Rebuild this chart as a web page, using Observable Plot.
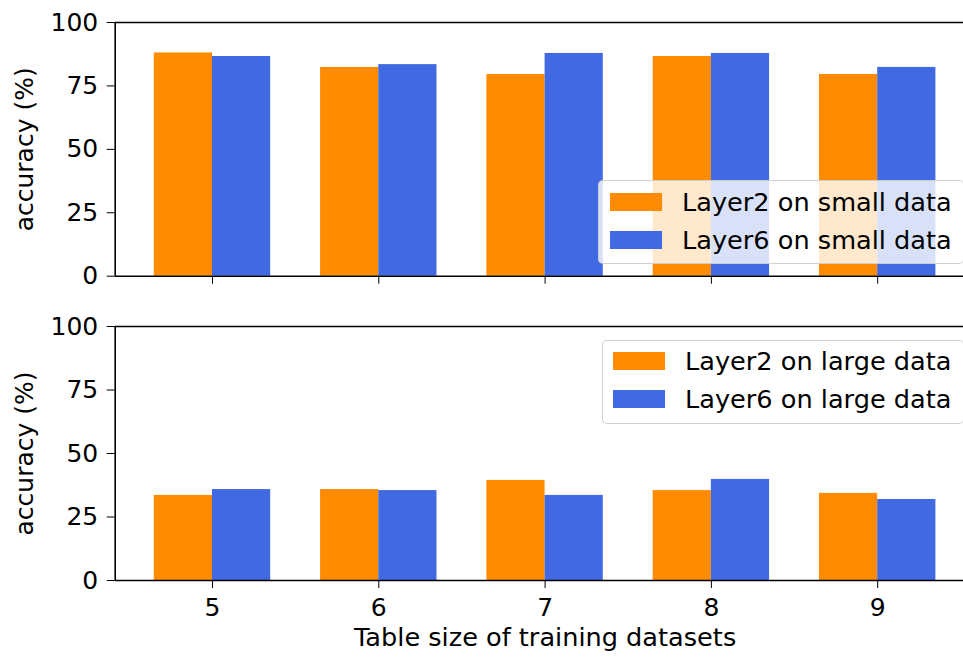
<!DOCTYPE html>
<html>
<head>
<meta charset="utf-8">
<script src="https://cdn.jsdelivr.net/npm/d3@7"></script>
<script src="https://cdn.jsdelivr.net/npm/@observablehq/plot@0.6"></script>
<style>
  html, body { margin: 0; padding: 0; background: #fff; }
  #wrap { position: relative; width: 963px; height: 657px; overflow: hidden; font-family: "DejaVu Sans", sans-serif; }
  .panel { position: absolute; left: 0; width: 963px; }
  .panel svg { display: block; overflow: visible; }
  .panel svg g[aria-label*="axis"] line, .panel svg .tick line { stroke-width: 1.6px; }
  .legend { position: absolute; background: rgba(255,255,255,0.8); border: 1px solid rgba(204,204,204,0.9); border-radius: 5px; box-sizing: border-box; }
  .legend .patch { position: absolute; width: 52px; height: 18px; }
  .legend .lab { position: absolute; font-size: 25.6px; line-height: 26px; color: #000; white-space: nowrap; }
</style>
</head>
<body>
<div id="wrap"></div>
<script>
// ---- data ----
const sizes = [5, 6, 7, 8, 9];
const layer2Small = [88.0, 82.3, 79.5, 86.6, 79.5];
const layer6Small = [86.6, 83.4, 87.8, 87.8, 82.3];
const layer2Large = [33.5, 35.8, 39.4, 35.4, 34.3];
const layer6Large = [35.8, 35.4, 33.5, 39.8, 31.9];
const yTicks = [0, 25, 50, 75, 100];
const topSeries = ["Layer2 on small data", "Layer6 on small data"];
const bottomSeries = ["Layer2 on large data", "Layer6 on large data"];
const xLabel = "Table size of training datasets";
const yLabel = "accuracy (%)";

// ---- style ----
const colors = ["#FF8C00", "#4169E1"];
const barW = 0.35;
const xDomain = [4.415, 9.516];
const font = "DejaVu Sans";

function rows(names, a, b) {
  const out = [];
  sizes.forEach((s, i) => {
    out.push({size: s, series: names[0], idx: 0, value: a[i]});
    out.push({size: s, series: names[1], idx: 1, value: b[i]});
  });
  return out;
}

function panel(data, opts) {
  const marks = [
    Plot.rectY(data, {
      x1: d => d.size - barW + d.idx * barW,
      x2: d => d.size + d.idx * barW,
      y: "value",
      fill: d => colors[d.idx]
    }),
    Plot.ruleY([0], {stroke: "#000", strokeWidth: 1.6}),
    Plot.ruleY([100], {stroke: "#000", strokeWidth: 1.6}),
    Plot.ruleX([xDomain[0]], {stroke: "#000", strokeWidth: 1.6}),
    Plot.text([yLabel], {frameAnchor: "left", rotate: -90, dx: -90.5, textAnchor: "middle", fontSize: 25, fill: "#000"})
  ];
  if (opts.showX) {
    marks.push(Plot.text([xLabel], {x: () => d3.mean(sizes), frameAnchor: "bottom", dy: 65, textAnchor: "middle", fontSize: 25.6, fill: "#000"}));
  }
  return Plot.plot({
    width: 963,
    height: opts.height,
    marginLeft: 114.7,
    marginRight: 0,
    marginTop: opts.marginTop,
    marginBottom: opts.marginBottom,
    style: {fontFamily: font, fontSize: "25px", color: "#000", background: "transparent", overflow: "visible"},
    x: {
      domain: xDomain,
      ticks: sizes,
      tickSize: 8,
      tickPadding: 10,
      tickFormat: opts.showX ? (d => String(d)) : (() => ""),
      label: null
    },
    y: {
      domain: [0, 100],
      ticks: yTicks,
      tickSize: 8,
      tickPadding: 9,
      label: null
    },
    marks
  });
}

function legend(names, box) {
  const lg = document.createElement("div");
  lg.className = "legend";
  Object.assign(lg.style, {left: box.left + "px", top: box.top + "px", width: box.width + "px", height: box.height + "px"});
  names.forEach((n, i) => {
    const p = document.createElement("div");
    p.className = "patch";
    p.style.background = colors[i];
    p.style.left = box.px + "px";
    p.style.top = (box.py + i * 38) + "px";
    lg.appendChild(p);
    const t = document.createElement("div");
    t.className = "lab";
    t.textContent = n;
    t.style.left = box.tx + "px";
    t.style.top = (box.py + i * 38 - 4) + "px";
    lg.appendChild(t);
  });
  return lg;
}

const wrap = document.getElementById("wrap");

const topPanel = document.createElement("div");
topPanel.className = "panel";
topPanel.style.top = "0px";
topPanel.appendChild(panel(rows(topSeries, layer2Small, layer6Small), {height: 300, marginTop: 22, marginBottom: 24.3, showX: false}));
topPanel.appendChild(legend(topSeries, {left: 598, top: 180, width: 366, height: 84, px: 11, py: 12, tx: 83}));
wrap.appendChild(topPanel);

const botPanel = document.createElement("div");
botPanel.className = "panel";
botPanel.style.top = "300px";
botPanel.appendChild(panel(rows(bottomSeries, layer2Large, layer6Large), {height: 357, marginTop: 26, marginBottom: 77, showX: true}));
botPanel.appendChild(legend(bottomSeries, {left: 602, top: 40, width: 362, height: 84, px: 10, py: 11, tx: 82}));
wrap.appendChild(botPanel);
</script>
</body>
</html>
